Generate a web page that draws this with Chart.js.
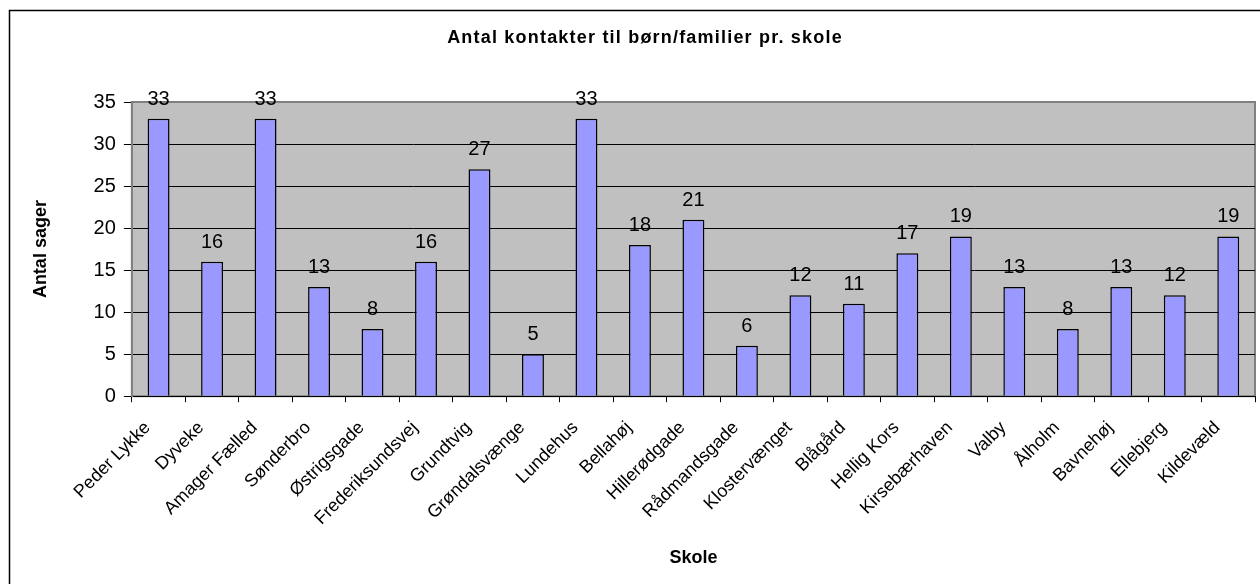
<!DOCTYPE html>
<html>
<head>
<meta charset="utf-8">
<script src="https://cdn.jsdelivr.net/npm/chart.js@4"></script>
<style>
  body { margin: 0; overflow: hidden; background: #fff; }
  #wrap { width: 1280px; height: 584px; }
</style>
</head>
<body>
<div id="wrap"><canvas id="myChart" width="1280" height="584"></canvas></div>
<script>
// data
const schools = ["Peder Lykke", "Dyveke", "Amager Fælled", "Sønderbro", "Østrigsgade",
  "Frederiksundsvej", "Grundtvig", "Grøndalsvænge", "Lundehus", "Bellahøj", "Hillerødgade",
  "Rådmandsgade", "Klostervænget", "Blågård", "Hellig Kors", "Kirsebærhaven", "Valby",
  "Ålholm", "Bavnehøj", "Ellebjerg", "Kildevæld"];
const cases = [33, 16, 33, 13, 8, 16, 27, 5, 33, 18, 21, 6, 12, 11, 17, 19, 13, 8, 13, 12, 19];
const yTicks = [0, 5, 10, 15, 20, 25, 30, 35];
const chartTitle = "Antal kontakter til børn/familier pr. skole";

const FONT = "'Liberation Sans', Arial, sans-serif";
Chart.defaults.font.family = FONT;
Chart.defaults.font.size = 20;
Chart.defaults.color = "#000";

// grey plot area + outer frame, like the old Excel charts
const frame = {
  id: "frame",
  beforeDraw(chart) {
    const { ctx, chartArea: a } = chart;
    ctx.save();
    ctx.fillStyle = "#fff";
    ctx.fillRect(0, 0, chart.width, chart.height);
    ctx.strokeStyle = "#000";
    ctx.lineWidth = 1.5;
    ctx.strokeRect(9.5, 10.5, 1400, 700);
    ctx.fillStyle = "#C0C0C0";
    ctx.fillRect(a.left, a.top, a.right - a.left, a.bottom - a.top);
    ctx.strokeStyle = "#808080";
    ctx.lineWidth = 2;
    ctx.strokeRect(a.left, a.top, a.right - a.left, a.bottom - a.top);
    ctx.restore();
  },
  // the Excel title is drawn a little spaced out
  afterDraw(chart) {
    const { ctx } = chart;
    ctx.save();
    ctx.font = "bold 18px " + FONT;
    ctx.letterSpacing = "1.2px";
    ctx.fillStyle = "#000";
    ctx.textAlign = "center";
    ctx.textBaseline = "alphabetic";
    ctx.fillText(chartTitle, 645, 43);
    ctx.restore();
  },
};

// value above each bar
const valueLabels = {
  id: "valueLabels",
  afterDatasetsDraw(chart) {
    const { ctx } = chart;
    ctx.save();
    ctx.font = "20px " + FONT;
    ctx.fillStyle = "#000";
    ctx.textAlign = "center";
    ctx.textBaseline = "alphabetic";
    chart.getDatasetMeta(0).data.forEach((bar, i) => {
      ctx.fillText(cases[i], bar.x, bar.y - 14);
    });
    ctx.restore();
  },
};

new Chart(document.getElementById("myChart"), {
  type: "bar",
  data: {
    labels: schools,
    datasets: [
      {
        label: "Antal sager",
        data: cases,
        backgroundColor: "#9999FF",
        borderColor: "#000",
        borderWidth: 1.5,
        barPercentage: 0.41,
        categoryPercentage: 1,
      },
    ],
  },
  options: {
    responsive: false,
    animation: false,
    layout: { padding: { left: 10, right: 25, top: 102, bottom: 0 } },
    plugins: {
      legend: { display: false },
      tooltip: { enabled: false },
      title: { display: false },
    },
    scales: {
      x: {
        grid: {
          offset: true,
          drawOnChartArea: false,
          tickLength: 6,
          color: "#000",
        },
        border: { color: "#000" },
        ticks: {
          autoSkip: false,
          minRotation: 45,
          maxRotation: 45,
          padding: 15,
          labelOffset: -11,
          font: { size: 18 },
        },
        title: {
          display: true,
          text: "Skole",
          font: { size: 18, weight: "bold" },
          padding: { top: 3, bottom: 15 },
        },
      },
      y: {
        min: 0,
        max: 35,
        afterBuildTicks(scale) {
          scale.ticks = yTicks.map((v) => ({ value: v }));
        },
        grid: {
          color: (c) => (c.tick && c.tick.value === 35 ? "#808080" : "#000"),
          tickColor: "#000",
          tickLength: 8,
        },
        border: { color: "#808080", width: 2 },
        ticks: { padding: 8 },
        title: {
          display: true,
          text: "Antal sager",
          font: { size: 18, weight: "bold" },
          padding: { top: 20, bottom: 34 },
        },
      },
    },
  },
  plugins: [frame, valueLabels],
});
</script>
</body>
</html>
